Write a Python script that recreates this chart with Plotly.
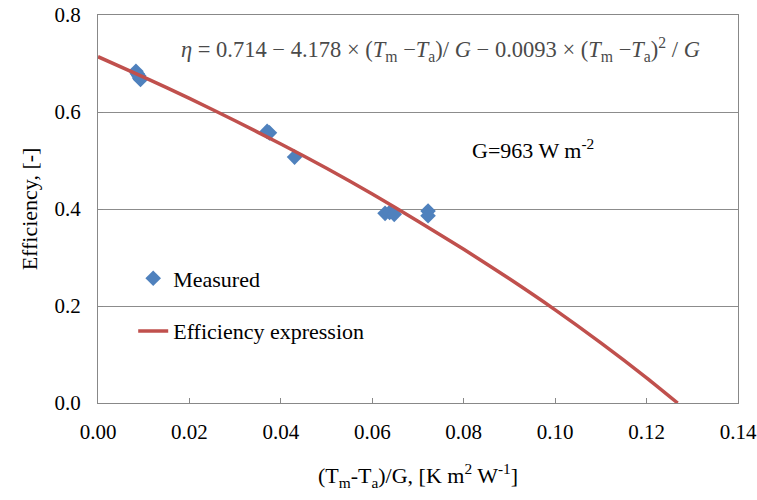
import plotly.graph_objects as go

# Measured data
meas_x = [0.0083, 0.0086, 0.0089, 0.0091, 0.0093, 0.0370, 0.0375, 0.0430, 0.0628, 0.0638, 0.0648, 0.0722, 0.0722]
meas_y = [0.684, 0.679, 0.675, 0.670, 0.667, 0.560, 0.557, 0.507, 0.391, 0.393, 0.389, 0.396, 0.386]

# Efficiency expression curve
curve_x = [0.0, 0.01, 0.02, 0.03, 0.04, 0.05, 0.06, 0.07, 0.08, 0.09, 0.10, 0.11, 0.12, 0.1268]
curve_y = [0.714, 0.672, 0.628, 0.582, 0.534, 0.484, 0.431, 0.375, 0.317, 0.256, 0.192, 0.124, 0.052, 0.0]

x_ticks = [0.00, 0.02, 0.04, 0.06, 0.08, 0.10, 0.12, 0.14]
y_ticks = [0.0, 0.2, 0.4, 0.6, 0.8]

FONT = "Liberation Serif, Times New Roman, serif"

fig = go.Figure()
fig.add_trace(go.Scatter(
    x=meas_x, y=meas_y, mode="markers", name="Measured",
    marker=dict(symbol="diamond", size=12, color="#4F81BD"),
    legendgroup="a"))
fig.add_trace(go.Scatter(
    x=curve_x, y=curve_y, mode="lines", name="Efficiency expression",
    line=dict(color="#C0504D", width=3.5, shape="spline", smoothing=0.6),
    legendgroup="b"))

axis_common = dict(
    showline=True, linecolor="#888888", linewidth=1.3, mirror=True,
    ticks="inside", ticklen=5, tickcolor="#888888",
    tickfont=dict(family=FONT, size=21, color="black"),
    zeroline=False, automargin=False, ticklabeloverflow="allow",
)

fig.update_layout(
    width=757, height=500,
    margin=dict(l=98, r=19, t=15, b=97),
    paper_bgcolor="white", plot_bgcolor="white",
    font=dict(family=FONT, color="black"),
    xaxis=dict(range=[0, 0.140001], tickvals=x_ticks, tickformat=".2f",
               showgrid=False, ticklabelstandoff=10,
               title=dict(text="(T<sub>m</sub>-T<sub>a</sub>)/G, [K m<sup>2</sup> W<sup>-1</sup>]",
                          font=dict(family=FONT, size=22), standoff=24),
               **axis_common),
    yaxis=dict(range=[0, 0.800001], tickvals=y_ticks, tickformat=".1f",
               showgrid=True, gridcolor="#8c8c8c", gridwidth=1.2, ticklabelstandoff=12,
               title=dict(text="Efficiency, [-]", font=dict(family=FONT, size=22), standoff=10),
               **axis_common),
    legend=dict(x=0.055, y=0.375, xanchor="left", yanchor="top",
                bgcolor="rgba(0,0,0,0)", font=dict(family=FONT, size=22),
                traceorder="grouped", tracegroupgap=21),
    showlegend=True,
)

fig.add_annotation(
    x=0.535, y=0.912, xref="paper", yref="paper", showarrow=False, yanchor="middle",
    text=("<i>η</i> = 0.714 − 4.178 × (<i>T</i><sub>m</sub> −<i>T</i><sub>a</sub>)/ <i>G</i> − 0.0093 × "
          "(<i>T</i><sub>m</sub> −<i>T</i><sub>a</sub>)<sup>2</sup> / <i>G</i>"),
    font=dict(family=FONT, size=22.5, color="#4a4a4a"))

fig.add_annotation(
    x=0.68, y=0.655, xref="paper", yref="paper", showarrow=False, xanchor="center",
    text="G=963 W m<sup>-2</sup>",
    font=dict(family=FONT, size=22, color="black"))

fig.write_html("out.html")
